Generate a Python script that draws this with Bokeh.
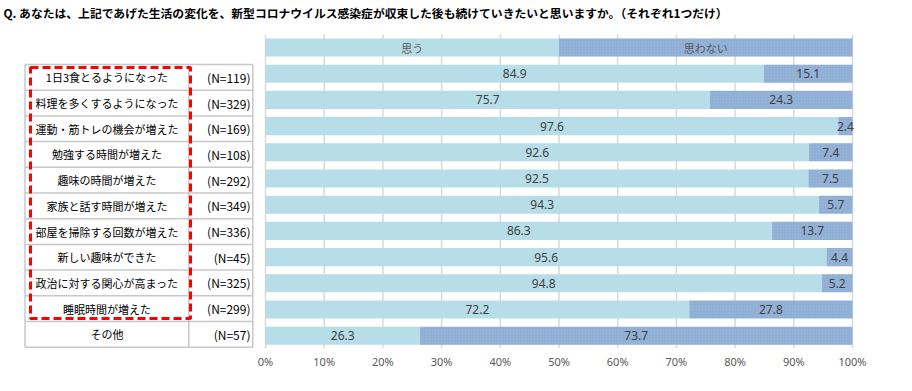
from bokeh.plotting import figure
from bokeh.models import Range1d, FixedTicker, ColumnDataSource
from bokeh.core.properties import value
from bokeh.embed import file_html
from bokeh.resources import INLINE

# ---------------- data ----------------
title_text = "Q. あなたは、上記であげた生活の変化を、新型コロナウイルス感染症が収束した後も続けていきたいと思いますか。（それぞれ1つだけ）"
items = ["1日3食とるようになった", "料理を多くするようになった", "運動・筋トレの機会が増えた",
         "勉強する時間が増えた", "趣味の時間が増えた", "家族と話す時間が増えた",
         "部屋を掃除する回数が増えた", "新しい趣味ができた", "政治に対する関心が高まった",
         "睡眠時間が増えた", "その他"]
n_values = [119, 329, 169, 108, 292, 349, 336, 45, 325, 299, 57]
yes_values = [84.9, 75.7, 97.6, 92.6, 92.5, 94.3, 86.3, 95.6, 94.8, 72.2, 26.3]
no_values = [15.1, 24.3, 2.4, 7.4, 7.5, 5.7, 13.7, 4.4, 5.2, 27.8, 73.7]
series_names = ["思う", "思わない"]
highlighted_count = 10  # first 10 items are boxed in red
x_ticks = [0, 10, 20, 30, 40, 50, 60, 70, 80, 90, 100]
x_tick_labels = ["0%", "10%", "20%", "30%", "40%", "50%", "60%", "70%", "80%", "90%", "100%"]

# ---------------- style ----------------
C_YES = "#B7DEE8"
C_NO = "#95B3D7"
GRID = "#D9D9D9"
TABLE_LINE = "#C8C8C8"
LABEL_COLOR = "#404040"
JP = value("Noto Sans CJK JP")
NUM = value("Noto Sans")

OFF = 0  # page offset of the canvas
W, H = 904, 383
px_per_unit = 5.87
x0 = -(265 - OFF) / px_per_unit
x1 = x0 + W / px_per_unit
row_px = 26.2
y_top = (OFF - 47) / row_px
y_bot = (350 - 47) / row_px

p = figure(width=W, height=H, output_backend="svg", toolbar_location=None,
           x_range=Range1d(x0, x1), y_range=Range1d(y_bot, y_top),
           y_axis_location=None, min_border_left=0, min_border_right=0,
           min_border_top=0, min_border_bottom=H - 350 + OFF)
p.outline_line_color = None
p.xgrid.visible = False
p.ygrid.visible = False
p.background_fill_color = "white"
p.border_fill_color = "white"

ax = p.xaxis[0]
ax.ticker = FixedTicker(ticks=x_ticks)
ax.major_label_overrides = {t: l for t, l in zip(x_ticks, x_tick_labels)}
ax.axis_line_color = None
ax.major_tick_line_color = None
ax.minor_tick_line_color = None
ax.major_label_text_font = "Noto Sans"
ax.major_label_text_font_size = "11px"
ax.major_label_text_color = "#595959"
ax.major_label_standoff = -3

# rows: 0 = header (legend bar), 1..11 = items
rows = [i + 1 for i in range(len(items))]

# gridlines
p.segment(x0=x_ticks, x1=x_ticks, y0=[-0.5] * len(x_ticks), y1=[len(items) + 0.48] * len(x_ticks),
          line_color=GRID, line_width=1.5)

bar_h = 0.69
# header bar (legend)
p.hbar(y=[0], left=[0], right=[50], height=bar_h, fill_color=C_YES, line_color=None)
p.hbar(y=[0], left=[50], right=[100], height=bar_h, fill_color=C_NO, line_color=None,
       hatch_pattern="dot", hatch_color="#7D9CCB", hatch_scale=3, hatch_alpha=0.6)
p.text(x=[25, 75], y=[0, 0], text=series_names, text_font=JP, text_font_size="11px",
       text_color="#595959", text_align="center", text_baseline="middle")

ends = [a + b for a, b in zip(yes_values, no_values)]
src = ColumnDataSource(dict(y=rows, yes=yes_values, no=no_values, end=ends,
                            yes_mid=[v / 2 for v in yes_values],
                            no_mid=[a + b / 2 for a, b in zip(yes_values, no_values)],
                            yes_lbl=[f"{v:.1f}" for v in yes_values],
                            no_lbl=[f"{v:.1f}" for v in no_values]))
p.hbar(y="y", left=0, right="yes", height=bar_h, fill_color=C_YES, line_color=None, source=src)
p.hbar(y="y", left="yes", right="end", height=bar_h, fill_color=C_NO, line_color=None, source=src,
       hatch_pattern="dot", hatch_color="#7D9CCB", hatch_scale=3, hatch_alpha=0.6)
p.text(x="yes_mid", y="y", text="yes_lbl", source=src, text_font=NUM, text_font_size="12px",
       text_color=LABEL_COLOR, text_align="center", text_baseline="middle")
p.text(x="no_mid", y="y", text="no_lbl", source=src, text_font=NUM, text_font_size="12px",
       text_color=LABEL_COLOR, text_align="center", text_baseline="middle")

# ---------------- left table ----------------
tx_left = (24.5 - 265) / px_per_unit
tx_mid = (188.3 - 265) / px_per_unit
tx_right = (252.3 - 265) / px_per_unit
ty_top = (64 - 47) / row_px
ty_bot = (346.7 - 47) / row_px
n_rows = len(items)
t_step = (ty_bot - ty_top) / n_rows
row_edges = [ty_top + k * t_step for k in range(n_rows + 1)]
row_centers = [ty_top + (k + 0.5) * t_step for k in range(n_rows)]

p.segment(x0=[tx_left] * len(row_edges), x1=[tx_right] * len(row_edges), y0=row_edges, y1=row_edges,
          line_color=TABLE_LINE, line_width=1.5)
p.segment(x0=[tx_left, tx_mid, tx_right], x1=[tx_left, tx_mid, tx_right],
          y0=[ty_top] * 3, y1=[ty_bot] * 3, line_color=TABLE_LINE, line_width=1.5)
p.text(x=[(tx_left + tx_mid) / 2] * n_rows, y=row_centers, text=items, text_font=JP,
       text_font_size="11px", text_color="black", text_align="center", text_baseline="middle")
p.text(x=[(250 - 265) / px_per_unit] * n_rows, y=row_centers, text=[f"(N={v})" for v in n_values],
       text_font=JP, text_font_size="12px", text_color="black", text_align="right",
       text_baseline="middle")

# red dashed highlight box around first items
bx_l = tx_left + 5.5 / px_per_unit
bx_r = tx_mid + 1.7 / px_per_unit
by_t = row_edges[0] + 3 / row_px
by_b = row_edges[highlighted_count] - 3 / row_px
p.quad(left=[bx_l], right=[bx_r], top=[by_t], bottom=[by_b], fill_color=None,
       line_color="#FF0000", line_width=3, line_dash="8 4")

# title
p.text(x=[x0 + 3 / px_per_unit], y=[y_top + 3 / row_px], text=[title_text], text_font=JP,
       text_font_size="11.8px", text_font_style="bold", text_color="black", text_align="left",
       text_baseline="top")

open("out.html", "w").write(file_html(p, INLINE))
